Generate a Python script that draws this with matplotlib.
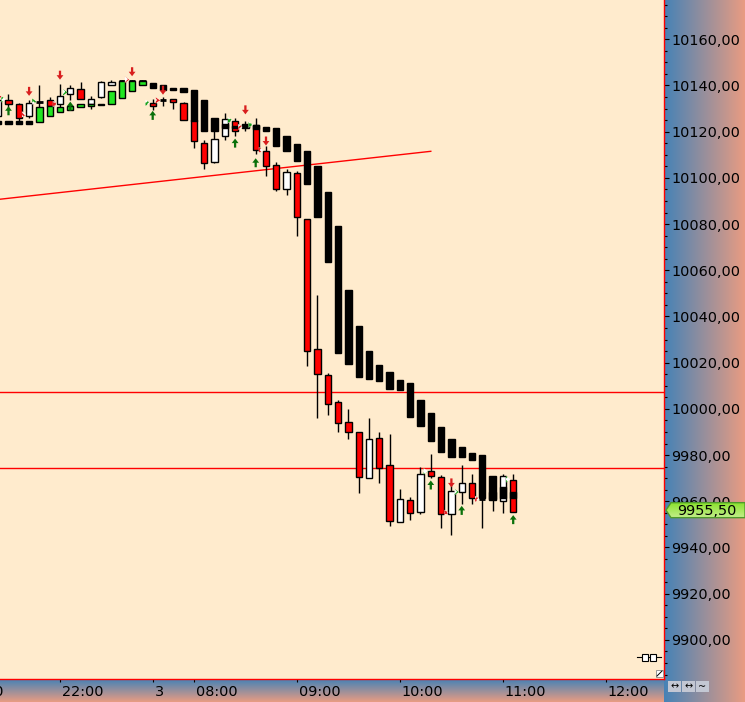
import numpy as np
import matplotlib
matplotlib.use("Agg")
import matplotlib.pyplot as plt
from matplotlib.patches import Polygon, Rectangle, Circle
from matplotlib.ticker import MultipleLocator, FuncFormatter
from matplotlib.transforms import ScaledTranslation

# ---------------- data ----------------
bars = list(range(-1, 50))
c_open = [10127, 10133.5, 10132, 10127, 10133, 10133.5, 10132, 10136.5, 10138.5, 10132,
          10135, 10140, 10142, 10142, 10142, 10132.5, 10133.5, 10134, 10132.5, 10125,
          10115, 10107, 10118, 10124.5, 10121.5, 10123, 10111.5, 10105.5, 10095, 10102,
          10082, 10026, 10014.5, 10003, 9994.5, 9990, 9970, 9987.5, 9975.5, 9951,
          9960.5, 9955.5, 9973, 9970.5, 9954.5, 9964, 9968, 9961, 9961, 9960, 9969]
c_close = [10133.5, 10132, 10126, 10132.5, 10133, 10131, 10135.5, 10139, 10134, 10134,
           10141.5, 10141.5, 10142, 10142, 10142, 10131, 10133.5, 10133, 10125, 10116,
           10106.5, 10117, 10125.5, 10120.5, 10123.5, 10112, 10105, 10095, 10102.5, 10083,
           10025, 10015, 10002, 9994, 9990, 9970.5, 9987, 9974.5, 9951.5, 9961,
           9955, 9972, 9971, 9954.5, 9964.5, 9968, 9961.5, 9961, 9964, 9971, 9955.5]
c_high = [10134.5, 10136.5, 10132.5, 10133.5, 10140, 10135, 10140.5, 10140, 10141.5, 10135.5,
          10142, 10142.5, 10142.5, 10142.5, 10142.5, 10134, 10135, 10134, 10133, 10127,
          10116.5, 10120.5, 10128, 10126, 10124.5, 10126, 10114, 10107, 10104, 10103,
          10082, 10049.5, 10015.5, 10004, 10000, 9990, 9996, 9990, 9989, 9965.5,
          9962, 9975, 9980.5, 9971.5, 9968, 9975.5, 9972, 9965, 9970, 9972, 9972]
c_low = [10126.5, 10130, 10124, 10126, 10124, 10131, 10130, 10133.5, 10134, 10130,
         10134.5, 10140, 10141.5, 10141.5, 10141.5, 10129.5, 10131, 10130, 10125, 10113,
         10104, 10106.5, 10116.5, 10118, 10120.5, 10110.5, 10101, 10094.5, 10092.5, 10075,
         10018.5, 9996, 9997.5, 9990, 9987, 9963.5, 9970, 9968, 9949.5, 9951,
         9952, 9954.5, 9970, 9948.5, 9945.5, 9959, 9959, 9948.5, 9956, 9955, 9955.5]
ha_open = [10124.5, 10124.5, 10124.5, 10124.5, 10124, 10127, 10128.5, 10129.5, 10130.5, 10131,
           10132, 10132, 10134.5, 10137.5, 10140, 10141, 10140, 10139, 10139, 10138,
           10133.5, 10126, 10123.5, 10122.5, 10123, 10123, 10122, 10121.5, 10118, 10114.5,
           10111.5, 10105, 10094, 10079, 10051.5, 10036, 10025, 10019, 10016, 10012.5,
           10011, 10004, 9998, 9992, 9987, 9983.5, 9981, 9980, 9971, 9966, 9964]
ha_close = [10123.5, 10123.5, 10123.5, 10123.5, 10130.5, 10131, 10130.5, 10131, 10132, 10132,
            10131.5, 10137.5, 10142, 10142, 10142, 10139, 10138, 10138, 10137, 10124.5,
            10120.5, 10120.5, 10121.5, 10121.5, 10122, 10121, 10120.5, 10114, 10111.5, 10107.5,
            10097.5, 10083, 10063.5, 10024, 10019.5, 10014, 10013, 10012, 10008.5, 10008,
            9996.5, 9992.5, 9986, 9981.5, 9979, 9979, 9978, 9961.5, 9960.5, 9961.5, 9961.5]

level_lines = [10007.25, 9974.25]
trend_x = [-0.83, 41.0]
trend_y = [10090.75, 10111.5]

fractal_bar = [-1, 1, 2, 4, 5, 11, 13, 14, 21, 22, 23, 24, 40, 42, 43, 45, 48]
fractal_price = [10134, 10127.5, 10133, 10132, 10137, 10142.5, 10132.5, 10133.5, 10125, 10122,
                 10123, 10112, 9973, 9955, 9964, 9961, 9969.5]
fractal_kind = ['g', 'r', 'g', 'r', 'g', 'r', 'g', 'r', 'g', 'r', 'g', 'r', 'g', 'r', 'g', 'r', 'g']

down_bar = [-1, 2, 5, 12, 15, 23, 25, 43]
down_tip = [10133.5, 10135.5, 10142.5, 10144, 10136, 10127.5, 10114, 9966]
up_bar = [0, 6, 14, 22, 24, 41, 44, 49]
up_tip = [10131, 10133, 10129, 10117, 10108.5, 9969, 9958, 9954]

xtick_bars = [5, 14, 18, 28, 38, 48, 58]
xtick_labels = ["22:00", "3", "08:00", "09:00", "10:00", "11:00", "12:00"]
last_price = 9955.5

# ---------------- style ----------------
BG = '#ffebcd'
RED = '#ff0000'
GREEN_HA = '#22e622'
ARROW_RED = '#d81e1e'
ARROW_GREEN = '#0a700a'
FS = 10.4

W, H = 745, 702
PR, PB = 664, 679
fig = plt.figure(figsize=(W / 100, H / 100), dpi=100)

# gradient panels
c1 = np.array([70, 130, 182]) / 255
c2 = np.array([233, 156, 130]) / 255
t = np.linspace(0, 1, 256)
grad = c1[None, :] * (1 - t[:, None]) + c2[None, :] * t[:, None]
rp = fig.add_axes([PR / W, 0, (W - PR) / W, 1])
rp.imshow(grad[None, :, :], aspect='auto', extent=[0, 1, 0, 1])
rp.axis('off')
bp = fig.add_axes([0, 0, PR / W, (H - PB) / H])
bp.imshow(grad[:, None, :], aspect='auto', extent=[0, 1, 0, 1])
bp.axis('off')

# main axes
ax = fig.add_axes([0, (H - PB) / H, PR / W, PB / H])
ax.set_facecolor(BG)
xmin = -0.825
ax.set_xlim(xmin, xmin + PR / 10.3)
ax.set_ylim(10177.0 - PB * 0.4329, 10177.0)

for lv in level_lines:
    ax.axhline(lv, color=RED, lw=1.0, zorder=1.5)
ax.plot(trend_x, trend_y, color=RED, lw=1.0, zorder=1.5)

# candles
ax.vlines(bars, c_low, c_high, colors='black', lw=1.0, zorder=2)
BW = 0.62
for k, o, c in zip(bars, c_open, c_close):
    if c == o:
        ax.hlines(o, k - BW / 2, k + BW / 2, colors='black', lw=2.0, zorder=3)
    else:
        col = 'white' if c > o else RED
        ax.bar(k, abs(c - o), bottom=min(o, c), width=BW, color=col,
               edgecolor='black', linewidth=1.0, zorder=3)

# heikin-ashi bodies
for k, o, c in zip(bars, ha_open, ha_close):
    col = GREEN_HA if c > o else 'black'
    ax.bar(k, max(abs(c - o), 0.4), bottom=min(o, c), width=BW, color=col,
           edgecolor='black', linewidth=1.0, zorder=4)

# arrows
HH, HT, HW, SW = 1.95, 3.9, 0.33, 0.11
for k, tp in zip(up_bar, up_tip):
    pts = [(k, tp), (k + HW, tp - HH), (k + SW, tp - HH), (k + SW, tp - HT),
           (k - SW, tp - HT), (k - SW, tp - HH), (k - HW, tp - HH)]
    ax.add_patch(Polygon(pts, closed=True, facecolor=ARROW_GREEN, edgecolor='none', zorder=5))
for k, tp in zip(down_bar, down_tip):
    pts = [(k, tp), (k + HW, tp + HH), (k + SW, tp + HH), (k + SW, tp + HT),
           (k - SW, tp + HT), (k - SW, tp + HH), (k - HW, tp + HH)]
    ax.add_patch(Polygon(pts, closed=True, facecolor=ARROW_RED, edgecolor='none', zorder=5))

# fractal markers (checkered chevrons)
plt.rcParams['hatch.linewidth'] = 1.2
for k, p, kind in zip(fractal_bar, fractal_price, fractal_kind):
    col = '#18a018' if kind == 'g' else '#e02020'
    x = k + 0.3
    pts = [(x, p + 1.35), (x + 0.42, p), (x, p - 1.35)]
    ax.add_patch(Polygon(pts, closed=True, facecolor='white', edgecolor=col,
                         hatch='xxxx', linewidth=0, zorder=5))

# spines
for s in ['top', 'left']:
    ax.spines[s].set_visible(False)
for s in ['right', 'bottom']:
    ax.spines[s].set_color(RED)
    ax.spines[s].set_linewidth(1.0)

# y axis on right
ax.yaxis.tick_right()
ax.yaxis.set_major_locator(MultipleLocator(20))
ax.yaxis.set_minor_locator(MultipleLocator(5))
ax.yaxis.set_major_formatter(FuncFormatter(lambda v, _: f"{v:.2f}".replace('.', ',')))
ax.tick_params(axis='y', which='major', direction='out', length=3.6, width=0.8,
               pad=1.5, labelsize=FS, colors='black')
ax.tick_params(axis='y', which='minor', direction='out', length=2.2, width=0.8, colors='black')

# x axis
ax.set_xticks(xtick_bars)
ax.set_xticklabels(xtick_labels)
ax.tick_params(axis='x', which='major', direction='out', length=2.5, width=0.8,
               pad=1.5, labelsize=FS, colors='black')
off = ScaledTranslation(2 / 100, 0, fig.dpi_scale_trans)
for lbl in ax.get_xticklabels():
    lbl.set_ha('left')
    lbl.set_transform(lbl.get_transform() + off)

# decorations in pixel coordinates
deco = fig.add_axes([0, 0, 1, 1])
deco.set_xlim(0, W)
deco.set_ylim(H, 0)
deco.axis('off')
deco.patch.set_alpha(0)

# price tag (with vertical gradient fill)
ty = (10177.0 - last_price) / 0.4329 - 1.5
tag = [(666, ty), (671, ty - 7.5), (W, ty - 7.5), (W, ty + 7.5), (671, ty + 7.5)]
tag_patch = Polygon(tag, closed=True, facecolor='none', edgecolor='#4f9a2a', lw=1.0, zorder=12)
deco.add_patch(tag_patch)
g1 = np.array([140, 226, 48]) / 255
g2 = np.array([196, 238, 140]) / 255
tt = np.linspace(0, 1, 64)
tgrad = g1[None, :] * (1 - tt[:, None]) + g2[None, :] * tt[:, None]
im = deco.imshow(tgrad[:, None, :], aspect='auto', extent=[666, W, ty + 7.5, ty - 7.5], zorder=10)
im.set_clip_path(tag_patch)
deco.set_xlim(0, W)
deco.set_ylim(H, 0)
deco.text(677, ty + 0.5, f"{last_price:.2f}".replace('.', ','), fontsize=FS, ha='left',
          va='center', color='black', zorder=13)

# small icon in plot corner
deco.plot([637, 661], [657, 657], color='black', lw=0.8, zorder=10)
deco.add_patch(Rectangle((642, 654), 6, 6.5, facecolor='white', edgecolor='black', lw=0.8, zorder=11))
deco.add_patch(Rectangle((650, 654), 6, 6.5, facecolor='white', edgecolor='black', lw=0.8, zorder=11))
deco.add_patch(Rectangle((656, 670), 7, 7, facecolor='white', edgecolor='#888888', lw=0.6, zorder=10))
deco.plot([657, 662], [676, 671], color='black', lw=0.7, zorder=11)

# bottom-right buttons
for bx, sym in zip([668, 682, 696], ['\u2194', '\u2194', '~']):
    deco.add_patch(Rectangle((bx, 681), 13, 11, facecolor='#c3c7d3', edgecolor='none', zorder=10))
    deco.text(bx + 6.5, 686.5, sym, fontsize=7, ha='center', va='center', color='black', zorder=11)

# partially visible label at far left
deco.text(-38, 692, "21:00", fontsize=FS, ha='left', va='center', color='black')

fig.savefig("out.png", dpi=100)
